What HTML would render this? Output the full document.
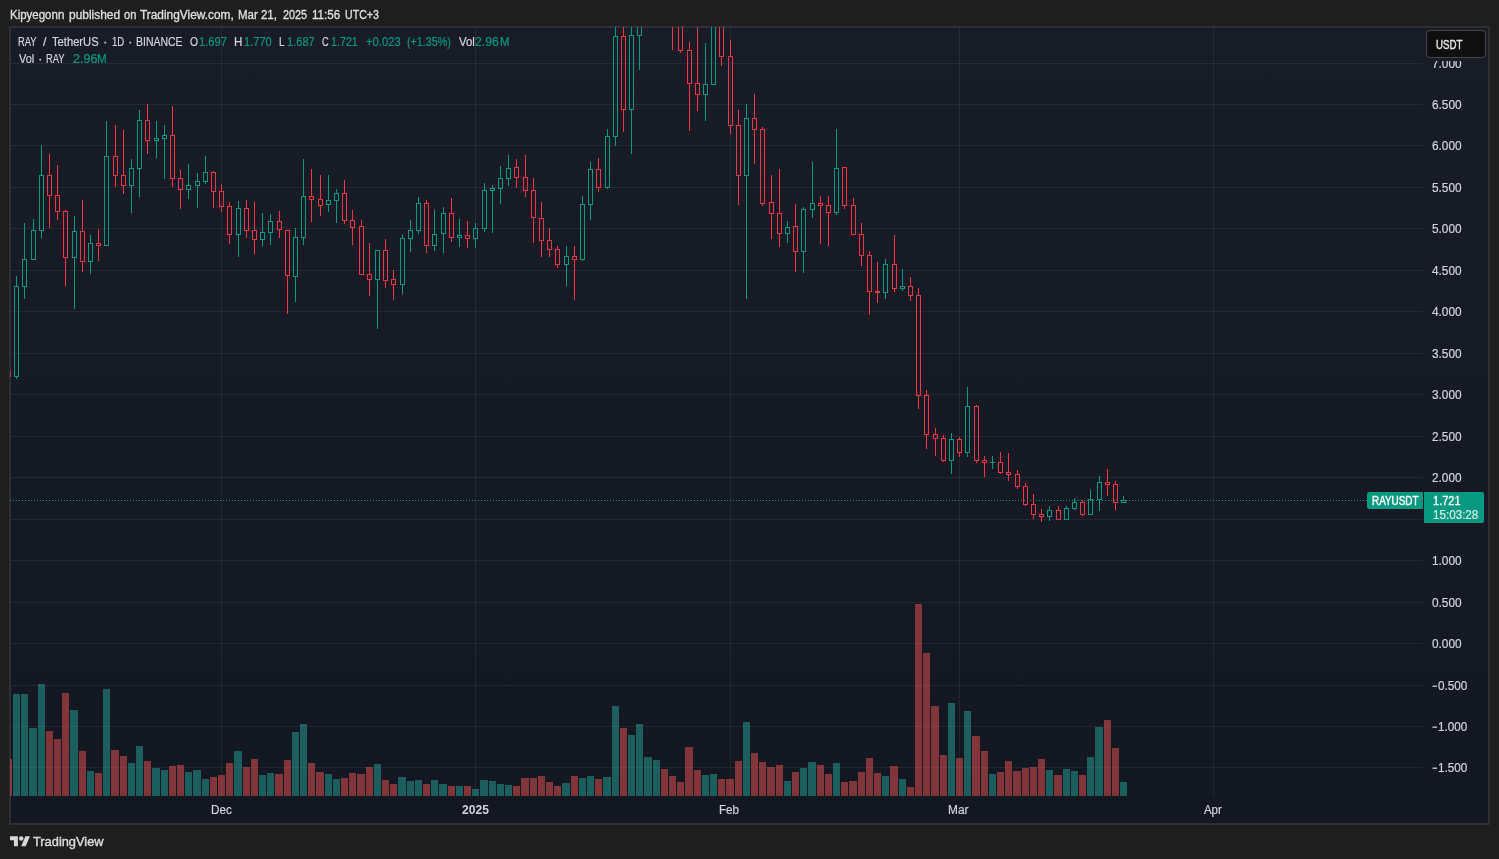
<!DOCTYPE html>
<html lang="en"><head><meta charset="utf-8"><title>RAYUSDT chart</title>
<style>
*{margin:0;padding:0;box-sizing:border-box}
html,body{width:1499px;height:859px;overflow:hidden;background:#1e1e1e}
#root{position:absolute;left:0;top:0;width:1499px;height:859px;overflow:hidden;background:#1e1e1e;will-change:transform;font-family:"Liberation Sans",Arial,sans-serif;font-size:12px;color:#d1d4dc}
.box{position:absolute;left:9px;top:26px;width:1481px;height:799px;border:1px solid #2f2f2f;box-shadow:inset 0 0 0 1px #2d2e36;background:linear-gradient(180deg,#181c27 0%,#131722 100%)}
.plot{position:absolute;left:0;top:0}
.t{position:absolute;height:16px;line-height:16px;white-space:pre;transform-origin:0 50%}
.ucov{position:absolute;left:1424px;top:28px;width:64px;height:32.7px;background:#181c27}
.usdt{position:absolute;left:1426px;top:30px;width:60px;height:28px;border:1px solid #464646;border-radius:4px;background:#0f0f0f}
.sym{position:absolute;left:1367px;top:492px;width:56px;height:17px;background:#089981;border-radius:2px 0 0 2px}
.prc{position:absolute;left:1424px;top:492px;width:60px;height:31px;background:#089981;border-radius:0 2px 2px 0}
.logo{position:absolute;left:9.85px;top:833.8px}
</style></head><body><div id="root">
<div class="box"></div>
<svg class="plot" width="1499" height="859" viewBox="0 0 1499 859" shape-rendering="crispEdges"><defs><clipPath id="pane"><rect x="10" y="27" width="1479" height="797"/></clipPath></defs><g clip-path="url(#pane)"><g fill="#f0f3fa" fill-opacity="0.068"><rect x="11" y="63" width="1412" height="1"/><rect x="11" y="104" width="1412" height="1"/><rect x="11" y="145" width="1412" height="1"/><rect x="11" y="187" width="1412" height="1"/><rect x="11" y="228" width="1412" height="1"/><rect x="11" y="270" width="1412" height="1"/><rect x="11" y="311" width="1412" height="1"/><rect x="11" y="353" width="1412" height="1"/><rect x="11" y="394" width="1412" height="1"/><rect x="11" y="436" width="1412" height="1"/><rect x="11" y="477" width="1412" height="1"/><rect x="11" y="519" width="1412" height="1"/><rect x="11" y="560" width="1412" height="1"/><rect x="11" y="602" width="1412" height="1"/><rect x="11" y="643" width="1412" height="1"/><rect x="11" y="685" width="1412" height="1"/><rect x="11" y="726" width="1412" height="1"/><rect x="11" y="767" width="1412" height="1"/><rect x="221" y="28" width="1" height="768"/><rect x="475" y="28" width="1" height="768"/><rect x="730" y="28" width="1" height="768"/><rect x="959" y="28" width="1" height="768"/><rect x="1213" y="28" width="1" height="768"/></g><g fill="rgba(38,166,154,0.5)"><rect x="13" y="694" width="7" height="102"/><rect x="21" y="694" width="7" height="102"/><rect x="29" y="728" width="8" height="68"/><rect x="38" y="684" width="7" height="112"/><rect x="70" y="710" width="8" height="86"/><rect x="87" y="771" width="7" height="25"/><rect x="103" y="689" width="7" height="107"/><rect x="128" y="763" width="7" height="33"/><rect x="136" y="746" width="7" height="50"/><rect x="152" y="768" width="8" height="28"/><rect x="161" y="770" width="7" height="26"/><rect x="185" y="772" width="7" height="24"/><rect x="193" y="770" width="8" height="26"/><rect x="202" y="779" width="7" height="17"/><rect x="234" y="751" width="8" height="45"/><rect x="259" y="775" width="7" height="21"/><rect x="267" y="773" width="7" height="23"/><rect x="292" y="732" width="7" height="64"/><rect x="300" y="724" width="7" height="72"/><rect x="325" y="774" width="7" height="22"/><rect x="333" y="779" width="7" height="17"/><rect x="374" y="764" width="7" height="32"/><rect x="398" y="777" width="8" height="19"/><rect x="407" y="781" width="7" height="15"/><rect x="415" y="780" width="7" height="16"/><rect x="431" y="780" width="7" height="16"/><rect x="439" y="784" width="8" height="12"/><rect x="456" y="786" width="7" height="10"/><rect x="472" y="789" width="7" height="7"/><rect x="480" y="780" width="8" height="16"/><rect x="489" y="781" width="7" height="15"/><rect x="497" y="784" width="7" height="12"/><rect x="505" y="785" width="7" height="11"/><rect x="562" y="783" width="8" height="13"/><rect x="579" y="778" width="7" height="18"/><rect x="587" y="776" width="7" height="20"/><rect x="603" y="777" width="8" height="19"/><rect x="612" y="706" width="7" height="90"/><rect x="628" y="735" width="7" height="61"/><rect x="636" y="724" width="7" height="72"/><rect x="644" y="757" width="8" height="39"/><rect x="653" y="760" width="7" height="36"/><rect x="702" y="775" width="7" height="21"/><rect x="710" y="774" width="7" height="22"/><rect x="743" y="722" width="7" height="74"/><rect x="784" y="781" width="7" height="15"/><rect x="800" y="768" width="7" height="28"/><rect x="808" y="762" width="8" height="34"/><rect x="833" y="763" width="7" height="33"/><rect x="882" y="776" width="7" height="20"/><rect x="899" y="779" width="7" height="17"/><rect x="948" y="703" width="7" height="93"/><rect x="964" y="711" width="7" height="85"/><rect x="989" y="774" width="7" height="22"/><rect x="1046" y="770" width="7" height="26"/><rect x="1063" y="769" width="7" height="27"/><rect x="1071" y="771" width="7" height="25"/><rect x="1087" y="757" width="7" height="39"/><rect x="1095" y="727" width="8" height="69"/><rect x="1120" y="782" width="7" height="14"/></g><g fill="rgba(239,83,80,0.5)"><rect x="5" y="759" width="7" height="37"/><rect x="46" y="731" width="7" height="65"/><rect x="54" y="739" width="7" height="57"/><rect x="62" y="693" width="7" height="103"/><rect x="79" y="751" width="7" height="45"/><rect x="95" y="773" width="7" height="23"/><rect x="111" y="750" width="8" height="46"/><rect x="120" y="756" width="7" height="40"/><rect x="144" y="761" width="7" height="35"/><rect x="169" y="766" width="7" height="30"/><rect x="177" y="765" width="7" height="31"/><rect x="210" y="777" width="7" height="19"/><rect x="218" y="775" width="7" height="21"/><rect x="226" y="763" width="7" height="33"/><rect x="243" y="767" width="7" height="29"/><rect x="251" y="759" width="7" height="37"/><rect x="275" y="774" width="8" height="22"/><rect x="284" y="760" width="7" height="36"/><rect x="308" y="763" width="7" height="33"/><rect x="316" y="772" width="8" height="24"/><rect x="341" y="778" width="7" height="18"/><rect x="349" y="773" width="7" height="23"/><rect x="357" y="774" width="8" height="22"/><rect x="366" y="767" width="7" height="29"/><rect x="382" y="780" width="7" height="16"/><rect x="390" y="784" width="7" height="12"/><rect x="423" y="784" width="7" height="12"/><rect x="448" y="786" width="7" height="10"/><rect x="464" y="786" width="7" height="10"/><rect x="513" y="786" width="7" height="10"/><rect x="521" y="778" width="8" height="18"/><rect x="530" y="778" width="7" height="18"/><rect x="538" y="776" width="7" height="20"/><rect x="546" y="782" width="7" height="14"/><rect x="554" y="786" width="7" height="10"/><rect x="571" y="776" width="7" height="20"/><rect x="595" y="779" width="7" height="17"/><rect x="620" y="728" width="7" height="68"/><rect x="661" y="769" width="7" height="27"/><rect x="669" y="776" width="7" height="20"/><rect x="677" y="782" width="7" height="14"/><rect x="685" y="747" width="8" height="49"/><rect x="694" y="770" width="7" height="26"/><rect x="718" y="779" width="7" height="17"/><rect x="726" y="779" width="8" height="17"/><rect x="735" y="761" width="7" height="35"/><rect x="751" y="753" width="7" height="43"/><rect x="759" y="762" width="7" height="34"/><rect x="767" y="767" width="8" height="29"/><rect x="776" y="765" width="7" height="31"/><rect x="792" y="772" width="7" height="24"/><rect x="817" y="765" width="7" height="31"/><rect x="825" y="774" width="7" height="22"/><rect x="841" y="782" width="7" height="14"/><rect x="849" y="781" width="8" height="15"/><rect x="858" y="772" width="7" height="24"/><rect x="866" y="758" width="7" height="38"/><rect x="874" y="773" width="7" height="23"/><rect x="890" y="766" width="8" height="30"/><rect x="907" y="787" width="7" height="9"/><rect x="915" y="604" width="7" height="192"/><rect x="923" y="653" width="7" height="143"/><rect x="931" y="706" width="8" height="90"/><rect x="940" y="755" width="7" height="41"/><rect x="956" y="758" width="7" height="38"/><rect x="972" y="736" width="8" height="60"/><rect x="981" y="751" width="7" height="45"/><rect x="997" y="772" width="7" height="24"/><rect x="1005" y="761" width="7" height="35"/><rect x="1013" y="771" width="8" height="25"/><rect x="1022" y="768" width="7" height="28"/><rect x="1030" y="767" width="7" height="29"/><rect x="1038" y="759" width="7" height="37"/><rect x="1054" y="775" width="8" height="21"/><rect x="1079" y="775" width="7" height="21"/><rect x="1104" y="720" width="7" height="76"/><rect x="1112" y="748" width="7" height="48"/></g><line x1="10" y1="500.5" x2="1368" y2="500.5" stroke="#089981" stroke-width="1" stroke-dasharray="1 2"/><g fill="#089981"><rect x="16" y="276" width="1" height="10"/><rect x="16" y="377" width="1" height="2"/><path fill-rule="evenodd" d="M14 286h5v91h-5zM15 287h3v89h-3z"/><rect x="24" y="223" width="1" height="36"/><rect x="24" y="287" width="1" height="12"/><path fill-rule="evenodd" d="M22 259h5v28h-5zM23 260h3v26h-3z"/><rect x="33" y="219" width="1" height="11"/><path fill-rule="evenodd" d="M31 230h5v30h-5zM32 231h3v28h-3z"/><rect x="41" y="145" width="1" height="30"/><rect x="41" y="231" width="1" height="7"/><path fill-rule="evenodd" d="M39 175h5v56h-5zM40 176h3v54h-3z"/><rect x="74" y="216" width="1" height="15"/><rect x="74" y="258" width="1" height="51"/><path fill-rule="evenodd" d="M72 231h5v27h-5zM73 232h3v25h-3z"/><rect x="90" y="235" width="1" height="8"/><rect x="90" y="262" width="1" height="12"/><path fill-rule="evenodd" d="M88 243h5v19h-5zM89 244h3v17h-3z"/><rect x="106" y="121" width="1" height="35"/><path fill-rule="evenodd" d="M104 156h5v90h-5zM105 157h3v88h-3z"/><rect x="131" y="159" width="1" height="9"/><rect x="131" y="186" width="1" height="27"/><path fill-rule="evenodd" d="M129 168h5v18h-5zM130 169h3v16h-3z"/><rect x="139" y="110" width="1" height="10"/><rect x="139" y="169" width="1" height="28"/><path fill-rule="evenodd" d="M137 120h5v49h-5zM138 121h3v47h-3z"/><rect x="156" y="121" width="1" height="17"/><rect x="156" y="141" width="1" height="17"/><path fill-rule="evenodd" d="M154 138h5v3h-5zM155 139h3v1h-3z"/><rect x="164" y="125" width="1" height="10"/><rect x="164" y="139" width="1" height="40"/><path fill-rule="evenodd" d="M162 135h5v4h-5zM163 136h3v2h-3z"/><rect x="188" y="164" width="1" height="21"/><rect x="188" y="190" width="1" height="9"/><path fill-rule="evenodd" d="M186 185h5v5h-5zM187 186h3v3h-3z"/><rect x="197" y="173" width="1" height="8"/><rect x="197" y="186" width="1" height="22"/><path fill-rule="evenodd" d="M195 181h5v5h-5zM196 182h3v3h-3z"/><rect x="205" y="156" width="1" height="16"/><rect x="205" y="182" width="1" height="2"/><path fill-rule="evenodd" d="M203 172h5v10h-5zM204 173h3v8h-3z"/><rect x="238" y="201" width="1" height="7"/><rect x="238" y="235" width="1" height="22"/><path fill-rule="evenodd" d="M236 208h5v27h-5zM237 209h3v25h-3z"/><rect x="262" y="213" width="1" height="19"/><rect x="262" y="240" width="1" height="6"/><path fill-rule="evenodd" d="M260 232h5v8h-5zM261 233h3v6h-3z"/><rect x="270" y="214" width="1" height="7"/><rect x="270" y="233" width="1" height="12"/><path fill-rule="evenodd" d="M268 221h5v12h-5zM269 222h3v10h-3z"/><rect x="295" y="228" width="1" height="9"/><rect x="295" y="277" width="1" height="25"/><path fill-rule="evenodd" d="M293 237h5v40h-5zM294 238h3v38h-3z"/><rect x="303" y="159" width="1" height="37"/><rect x="303" y="238" width="1" height="7"/><path fill-rule="evenodd" d="M301 196h5v42h-5zM302 197h3v40h-3z"/><rect x="328" y="175" width="1" height="25"/><rect x="328" y="205" width="1" height="7"/><path fill-rule="evenodd" d="M326 200h5v5h-5zM327 201h3v3h-3z"/><rect x="336" y="189" width="1" height="4"/><rect x="336" y="201" width="1" height="22"/><path fill-rule="evenodd" d="M334 193h5v8h-5zM335 194h3v6h-3z"/><rect x="377" y="280" width="1" height="49"/><path fill-rule="evenodd" d="M375 250h5v30h-5zM376 251h3v28h-3z"/><rect x="402" y="234" width="1" height="4"/><rect x="402" y="285" width="1" height="9"/><path fill-rule="evenodd" d="M400 238h5v47h-5zM401 239h3v45h-3z"/><rect x="410" y="220" width="1" height="10"/><rect x="410" y="239" width="1" height="13"/><path fill-rule="evenodd" d="M408 230h5v9h-5zM409 231h3v7h-3z"/><rect x="418" y="197" width="1" height="6"/><rect x="418" y="231" width="1" height="3"/><path fill-rule="evenodd" d="M416 203h5v28h-5zM417 204h3v26h-3z"/><rect x="434" y="210" width="1" height="24"/><rect x="434" y="246" width="1" height="5"/><path fill-rule="evenodd" d="M432 234h5v12h-5zM433 235h3v10h-3z"/><rect x="443" y="207" width="1" height="6"/><rect x="443" y="234" width="1" height="19"/><path fill-rule="evenodd" d="M441 213h5v21h-5zM442 214h3v19h-3z"/><rect x="459" y="219" width="1" height="16"/><rect x="459" y="238" width="1" height="9"/><path fill-rule="evenodd" d="M457 235h5v3h-5zM458 236h3v1h-3z"/><rect x="475" y="223" width="1" height="5"/><rect x="475" y="239" width="1" height="9"/><path fill-rule="evenodd" d="M473 228h5v11h-5zM474 229h3v9h-3z"/><rect x="484" y="183" width="1" height="7"/><rect x="484" y="229" width="1" height="3"/><path fill-rule="evenodd" d="M482 190h5v39h-5zM483 191h3v37h-3z"/><rect x="492" y="185" width="1" height="3"/><rect x="492" y="191" width="1" height="42"/><path fill-rule="evenodd" d="M490 188h5v3h-5zM491 189h3v1h-3z"/><rect x="500" y="166" width="1" height="12"/><rect x="500" y="189" width="1" height="15"/><path fill-rule="evenodd" d="M498 178h5v11h-5zM499 179h3v9h-3z"/><rect x="508" y="155" width="1" height="13"/><rect x="508" y="179" width="1" height="7"/><path fill-rule="evenodd" d="M506 168h5v11h-5zM507 169h3v9h-3z"/><rect x="566" y="246" width="1" height="10"/><rect x="566" y="265" width="1" height="21"/><path fill-rule="evenodd" d="M564 256h5v9h-5zM565 257h3v7h-3z"/><rect x="582" y="196" width="1" height="8"/><rect x="582" y="260" width="1" height="1"/><path fill-rule="evenodd" d="M580 204h5v56h-5zM581 205h3v54h-3z"/><rect x="590" y="162" width="1" height="7"/><rect x="590" y="205" width="1" height="15"/><path fill-rule="evenodd" d="M588 169h5v36h-5zM589 170h3v34h-3z"/><rect x="607" y="129" width="1" height="7"/><rect x="607" y="188" width="1" height="1"/><path fill-rule="evenodd" d="M605 136h5v52h-5zM606 137h3v50h-3z"/><rect x="615" y="10" width="1" height="26"/><rect x="615" y="137" width="1" height="9"/><path fill-rule="evenodd" d="M613 36h5v101h-5zM614 37h3v99h-3z"/><rect x="631" y="10" width="1" height="25"/><rect x="631" y="110" width="1" height="44"/><path fill-rule="evenodd" d="M629 35h5v75h-5zM630 36h3v73h-3z"/><rect x="639" y="36" width="1" height="34"/><path fill-rule="evenodd" d="M637 9h5v27h-5zM638 10h3v25h-3z"/><rect x="705" y="43" width="1" height="41"/><rect x="705" y="95" width="1" height="26"/><path fill-rule="evenodd" d="M703 84h5v11h-5zM704 85h3v9h-3z"/><path fill-rule="evenodd" d="M711 9h5v76h-5zM712 10h3v74h-3z"/><rect x="746" y="104" width="1" height="14"/><rect x="746" y="176" width="1" height="123"/><path fill-rule="evenodd" d="M744 118h5v58h-5zM745 119h3v56h-3z"/><rect x="787" y="221" width="1" height="6"/><rect x="787" y="234" width="1" height="9"/><path fill-rule="evenodd" d="M785 227h5v7h-5zM786 228h3v5h-3z"/><rect x="803" y="207" width="1" height="2"/><rect x="803" y="252" width="1" height="21"/><path fill-rule="evenodd" d="M801 209h5v43h-5zM802 210h3v41h-3z"/><rect x="812" y="162" width="1" height="41"/><rect x="812" y="210" width="1" height="8"/><path fill-rule="evenodd" d="M810 203h5v7h-5zM811 204h3v5h-3z"/><rect x="836" y="129" width="1" height="39"/><rect x="836" y="213" width="1" height="2"/><path fill-rule="evenodd" d="M834 168h5v45h-5zM835 169h3v43h-3z"/><rect x="885" y="259" width="1" height="5"/><rect x="885" y="293" width="1" height="6"/><path fill-rule="evenodd" d="M883 264h5v29h-5zM884 265h3v27h-3z"/><rect x="902" y="269" width="1" height="17"/><rect x="902" y="289" width="1" height="2"/><path fill-rule="evenodd" d="M900 286h5v3h-5zM901 287h3v1h-3z"/><rect x="951" y="433" width="1" height="6"/><rect x="951" y="461" width="1" height="13"/><path fill-rule="evenodd" d="M949 439h5v22h-5zM950 440h3v20h-3z"/><rect x="967" y="387" width="1" height="19"/><rect x="967" y="453" width="1" height="4"/><path fill-rule="evenodd" d="M965 406h5v47h-5zM966 407h3v45h-3z"/><rect x="992" y="456" width="1" height="6"/><rect x="992" y="463" width="1" height="6"/><rect x="990" y="462" width="5" height="1"/><rect x="1049" y="506" width="1" height="4"/><rect x="1049" y="517" width="1" height="4"/><path fill-rule="evenodd" d="M1047 510h5v7h-5zM1048 511h3v5h-3z"/><rect x="1066" y="506" width="1" height="2"/><path fill-rule="evenodd" d="M1064 508h5v12h-5zM1065 509h3v10h-3z"/><rect x="1074" y="498" width="1" height="4"/><rect x="1074" y="509" width="1" height="1"/><path fill-rule="evenodd" d="M1072 502h5v7h-5zM1073 503h3v5h-3z"/><rect x="1090" y="490" width="1" height="9"/><path fill-rule="evenodd" d="M1088 499h5v16h-5zM1089 500h3v14h-3z"/><rect x="1099" y="476" width="1" height="6"/><rect x="1099" y="500" width="1" height="11"/><path fill-rule="evenodd" d="M1097 482h5v18h-5zM1098 483h3v16h-3z"/><rect x="1123" y="496" width="1" height="4"/><path fill-rule="evenodd" d="M1121 500h5v3h-5zM1122 501h3v1h-3z"/></g><g fill="#f23645"><rect x="49" y="154" width="1" height="21"/><rect x="49" y="196" width="1" height="32"/><path fill-rule="evenodd" d="M47 175h5v21h-5zM48 176h3v19h-3z"/><rect x="57" y="165" width="1" height="30"/><rect x="57" y="212" width="1" height="8"/><path fill-rule="evenodd" d="M55 195h5v17h-5zM56 196h3v15h-3z"/><rect x="65" y="210" width="1" height="1"/><rect x="65" y="258" width="1" height="28"/><path fill-rule="evenodd" d="M63 211h5v47h-5zM64 212h3v45h-3z"/><rect x="82" y="200" width="1" height="31"/><rect x="82" y="262" width="1" height="10"/><path fill-rule="evenodd" d="M80 231h5v31h-5zM81 232h3v29h-3z"/><rect x="98" y="229" width="1" height="14"/><rect x="98" y="246" width="1" height="15"/><path fill-rule="evenodd" d="M96 243h5v3h-5zM97 244h3v1h-3z"/><rect x="115" y="125" width="1" height="31"/><rect x="115" y="176" width="1" height="11"/><path fill-rule="evenodd" d="M113 156h5v20h-5zM114 157h3v18h-3z"/><rect x="123" y="130" width="1" height="45"/><rect x="123" y="186" width="1" height="8"/><path fill-rule="evenodd" d="M121 175h5v11h-5zM122 176h3v9h-3z"/><rect x="147" y="104" width="1" height="16"/><rect x="147" y="141" width="1" height="13"/><path fill-rule="evenodd" d="M145 120h5v21h-5zM146 121h3v19h-3z"/><rect x="172" y="106" width="1" height="29"/><rect x="172" y="179" width="1" height="8"/><path fill-rule="evenodd" d="M170 135h5v44h-5zM171 136h3v42h-3z"/><rect x="180" y="170" width="1" height="8"/><rect x="180" y="190" width="1" height="19"/><path fill-rule="evenodd" d="M178 178h5v12h-5zM179 179h3v10h-3z"/><rect x="213" y="171" width="1" height="1"/><rect x="213" y="192" width="1" height="16"/><path fill-rule="evenodd" d="M211 172h5v20h-5zM212 173h3v18h-3z"/><rect x="221" y="184" width="1" height="7"/><rect x="221" y="207" width="1" height="5"/><path fill-rule="evenodd" d="M219 191h5v16h-5zM220 192h3v14h-3z"/><rect x="229" y="202" width="1" height="4"/><rect x="229" y="235" width="1" height="9"/><path fill-rule="evenodd" d="M227 206h5v29h-5zM228 207h3v27h-3z"/><rect x="246" y="200" width="1" height="8"/><rect x="246" y="231" width="1" height="7"/><path fill-rule="evenodd" d="M244 208h5v23h-5zM245 209h3v21h-3z"/><rect x="254" y="202" width="1" height="28"/><rect x="254" y="240" width="1" height="14"/><path fill-rule="evenodd" d="M252 230h5v10h-5zM253 231h3v8h-3z"/><rect x="279" y="211" width="1" height="10"/><rect x="279" y="230" width="1" height="8"/><path fill-rule="evenodd" d="M277 221h5v9h-5zM278 222h3v7h-3z"/><rect x="287" y="276" width="1" height="38"/><path fill-rule="evenodd" d="M285 230h5v46h-5zM286 231h3v44h-3z"/><rect x="311" y="169" width="1" height="27"/><rect x="311" y="200" width="1" height="22"/><path fill-rule="evenodd" d="M309 196h5v4h-5zM310 197h3v2h-3z"/><rect x="320" y="175" width="1" height="24"/><rect x="320" y="206" width="1" height="10"/><path fill-rule="evenodd" d="M318 199h5v7h-5zM319 200h3v5h-3z"/><rect x="344" y="180" width="1" height="13"/><rect x="344" y="221" width="1" height="3"/><path fill-rule="evenodd" d="M342 193h5v28h-5zM343 194h3v26h-3z"/><rect x="352" y="210" width="1" height="10"/><rect x="352" y="228" width="1" height="17"/><path fill-rule="evenodd" d="M350 220h5v8h-5zM351 221h3v6h-3z"/><rect x="361" y="220" width="1" height="6"/><path fill-rule="evenodd" d="M359 226h5v49h-5zM360 227h3v47h-3z"/><rect x="369" y="243" width="1" height="31"/><rect x="369" y="280" width="1" height="16"/><path fill-rule="evenodd" d="M367 274h5v6h-5zM368 275h3v4h-3z"/><rect x="385" y="239" width="1" height="11"/><rect x="385" y="281" width="1" height="7"/><path fill-rule="evenodd" d="M383 250h5v31h-5zM384 251h3v29h-3z"/><rect x="393" y="270" width="1" height="9"/><rect x="393" y="285" width="1" height="15"/><path fill-rule="evenodd" d="M391 279h5v6h-5zM392 280h3v4h-3z"/><rect x="426" y="200" width="1" height="3"/><rect x="426" y="246" width="1" height="7"/><path fill-rule="evenodd" d="M424 203h5v43h-5zM425 204h3v41h-3z"/><rect x="451" y="198" width="1" height="15"/><rect x="451" y="238" width="1" height="4"/><path fill-rule="evenodd" d="M449 213h5v25h-5zM450 214h3v23h-3z"/><rect x="467" y="221" width="1" height="14"/><rect x="467" y="239" width="1" height="9"/><path fill-rule="evenodd" d="M465 235h5v4h-5zM466 236h3v2h-3z"/><rect x="516" y="159" width="1" height="8"/><rect x="516" y="178" width="1" height="10"/><path fill-rule="evenodd" d="M514 167h5v11h-5zM515 168h3v9h-3z"/><rect x="525" y="155" width="1" height="22"/><rect x="525" y="191" width="1" height="6"/><path fill-rule="evenodd" d="M523 177h5v14h-5zM524 178h3v12h-3z"/><rect x="533" y="178" width="1" height="12"/><rect x="533" y="218" width="1" height="25"/><path fill-rule="evenodd" d="M531 190h5v28h-5zM532 191h3v26h-3z"/><rect x="541" y="202" width="1" height="16"/><rect x="541" y="241" width="1" height="16"/><path fill-rule="evenodd" d="M539 218h5v23h-5zM540 219h3v21h-3z"/><rect x="549" y="228" width="1" height="12"/><rect x="549" y="250" width="1" height="7"/><path fill-rule="evenodd" d="M547 240h5v10h-5zM548 241h3v8h-3z"/><rect x="557" y="246" width="1" height="3"/><rect x="557" y="265" width="1" height="3"/><path fill-rule="evenodd" d="M555 249h5v16h-5zM556 250h3v14h-3z"/><rect x="574" y="246" width="1" height="10"/><rect x="574" y="260" width="1" height="40"/><path fill-rule="evenodd" d="M572 256h5v4h-5zM573 257h3v2h-3z"/><rect x="598" y="158" width="1" height="11"/><rect x="598" y="188" width="1" height="4"/><path fill-rule="evenodd" d="M596 169h5v19h-5zM597 170h3v17h-3z"/><rect x="623" y="10" width="1" height="26"/><rect x="623" y="110" width="1" height="22"/><path fill-rule="evenodd" d="M621 36h5v74h-5zM622 37h3v72h-3z"/><rect x="672" y="11" width="1" height="39"/><rect x="670" y="9" width="5" height="2"/><rect x="680" y="51" width="1" height="2"/><path fill-rule="evenodd" d="M678 9h5v42h-5zM679 10h3v40h-3z"/><rect x="689" y="42" width="1" height="8"/><rect x="689" y="84" width="1" height="47"/><path fill-rule="evenodd" d="M687 50h5v34h-5zM688 51h3v32h-3z"/><rect x="697" y="10" width="1" height="73"/><rect x="697" y="95" width="1" height="16"/><path fill-rule="evenodd" d="M695 83h5v12h-5zM696 84h3v10h-3z"/><rect x="721" y="57" width="1" height="9"/><path fill-rule="evenodd" d="M719 9h5v48h-5zM720 10h3v46h-3z"/><rect x="730" y="40" width="1" height="16"/><rect x="730" y="126" width="1" height="8"/><path fill-rule="evenodd" d="M728 56h5v70h-5zM729 57h3v68h-3z"/><rect x="738" y="110" width="1" height="15"/><rect x="738" y="176" width="1" height="29"/><path fill-rule="evenodd" d="M736 125h5v51h-5zM737 126h3v49h-3z"/><rect x="754" y="94" width="1" height="24"/><rect x="754" y="130" width="1" height="34"/><path fill-rule="evenodd" d="M752 118h5v12h-5zM753 119h3v10h-3z"/><rect x="762" y="127" width="1" height="2"/><rect x="762" y="204" width="1" height="2"/><path fill-rule="evenodd" d="M760 129h5v75h-5zM761 130h3v73h-3z"/><rect x="771" y="175" width="1" height="27"/><rect x="771" y="214" width="1" height="25"/><path fill-rule="evenodd" d="M769 202h5v12h-5zM770 203h3v10h-3z"/><rect x="779" y="169" width="1" height="44"/><rect x="779" y="234" width="1" height="13"/><path fill-rule="evenodd" d="M777 213h5v21h-5zM778 214h3v19h-3z"/><rect x="795" y="204" width="1" height="22"/><rect x="795" y="252" width="1" height="20"/><path fill-rule="evenodd" d="M793 226h5v26h-5zM794 227h3v24h-3z"/><rect x="820" y="196" width="1" height="7"/><rect x="820" y="206" width="1" height="38"/><path fill-rule="evenodd" d="M818 203h5v3h-5zM819 204h3v1h-3z"/><rect x="828" y="196" width="1" height="9"/><rect x="828" y="213" width="1" height="33"/><path fill-rule="evenodd" d="M826 205h5v8h-5zM827 206h3v6h-3z"/><rect x="844" y="206" width="1" height="3"/><path fill-rule="evenodd" d="M842 167h5v39h-5zM843 168h3v37h-3z"/><rect x="853" y="198" width="1" height="7"/><path fill-rule="evenodd" d="M851 205h5v30h-5zM852 206h3v28h-3z"/><rect x="861" y="223" width="1" height="11"/><rect x="861" y="256" width="1" height="10"/><path fill-rule="evenodd" d="M859 234h5v22h-5zM860 235h3v20h-3z"/><rect x="869" y="251" width="1" height="4"/><rect x="869" y="292" width="1" height="23"/><path fill-rule="evenodd" d="M867 255h5v37h-5zM868 256h3v35h-3z"/><rect x="877" y="262" width="1" height="29"/><rect x="877" y="293" width="1" height="10"/><rect x="875" y="291" width="5" height="2"/><rect x="894" y="235" width="1" height="29"/><rect x="894" y="289" width="1" height="3"/><path fill-rule="evenodd" d="M892 264h5v25h-5zM893 265h3v23h-3z"/><rect x="910" y="277" width="1" height="9"/><rect x="910" y="296" width="1" height="5"/><path fill-rule="evenodd" d="M908 286h5v10h-5zM909 287h3v8h-3z"/><rect x="918" y="288" width="1" height="7"/><rect x="918" y="396" width="1" height="13"/><path fill-rule="evenodd" d="M916 295h5v101h-5zM917 296h3v99h-3z"/><rect x="926" y="390" width="1" height="5"/><rect x="926" y="435" width="1" height="14"/><path fill-rule="evenodd" d="M924 395h5v40h-5zM925 396h3v38h-3z"/><rect x="935" y="428" width="1" height="6"/><rect x="935" y="439" width="1" height="17"/><path fill-rule="evenodd" d="M933 434h5v5h-5zM934 435h3v3h-3z"/><rect x="943" y="435" width="1" height="3"/><rect x="943" y="461" width="1" height="1"/><path fill-rule="evenodd" d="M941 438h5v23h-5zM942 439h3v21h-3z"/><rect x="959" y="437" width="1" height="2"/><rect x="959" y="453" width="1" height="4"/><path fill-rule="evenodd" d="M957 439h5v14h-5zM958 440h3v12h-3z"/><rect x="976" y="405" width="1" height="1"/><rect x="976" y="461" width="1" height="2"/><path fill-rule="evenodd" d="M974 406h5v55h-5zM975 407h3v53h-3z"/><rect x="984" y="456" width="1" height="4"/><rect x="984" y="463" width="1" height="14"/><path fill-rule="evenodd" d="M982 460h5v3h-5zM983 461h3v1h-3z"/><rect x="1000" y="452" width="1" height="10"/><rect x="1000" y="473" width="1" height="1"/><path fill-rule="evenodd" d="M998 462h5v11h-5zM999 463h3v9h-3z"/><rect x="1008" y="453" width="1" height="19"/><rect x="1008" y="475" width="1" height="6"/><path fill-rule="evenodd" d="M1006 472h5v3h-5zM1007 473h3v1h-3z"/><rect x="1017" y="470" width="1" height="4"/><rect x="1017" y="487" width="1" height="2"/><path fill-rule="evenodd" d="M1015 474h5v13h-5zM1016 475h3v11h-3z"/><rect x="1025" y="483" width="1" height="3"/><rect x="1025" y="505" width="1" height="1"/><path fill-rule="evenodd" d="M1023 486h5v19h-5zM1024 487h3v17h-3z"/><rect x="1033" y="494" width="1" height="10"/><rect x="1033" y="515" width="1" height="4"/><path fill-rule="evenodd" d="M1031 504h5v11h-5zM1032 505h3v9h-3z"/><rect x="1041" y="509" width="1" height="5"/><rect x="1041" y="517" width="1" height="5"/><path fill-rule="evenodd" d="M1039 514h5v3h-5zM1040 515h3v1h-3z"/><rect x="1058" y="506" width="1" height="4"/><path fill-rule="evenodd" d="M1056 510h5v10h-5zM1057 511h3v8h-3z"/><rect x="1082" y="500" width="1" height="2"/><rect x="1082" y="515" width="1" height="1"/><path fill-rule="evenodd" d="M1080 502h5v13h-5zM1081 503h3v11h-3z"/><rect x="1107" y="469" width="1" height="13"/><rect x="1107" y="485" width="1" height="11"/><path fill-rule="evenodd" d="M1105 482h5v3h-5zM1106 483h3v1h-3z"/><rect x="1115" y="481" width="1" height="3"/><rect x="1115" y="503" width="1" height="7"/><path fill-rule="evenodd" d="M1113 484h5v19h-5zM1114 485h3v17h-3z"/><rect x="10" y="371" width="1" height="6" fill-opacity="0.7"/></g></g></svg>
<span class="t" style="left:1431.90px;top:56.1px;-webkit-text-stroke:0.2px;color:#d1d4dc;transform:scaleX(0.9867)">7.000</span><span class="t" style="left:1431.90px;top:97.1px;-webkit-text-stroke:0.2px;color:#d1d4dc;transform:scaleX(0.9867)">6.500</span><span class="t" style="left:1431.90px;top:138.1px;-webkit-text-stroke:0.2px;color:#d1d4dc;transform:scaleX(0.9867)">6.000</span><span class="t" style="left:1431.90px;top:180.1px;-webkit-text-stroke:0.2px;color:#d1d4dc;transform:scaleX(0.9867)">5.500</span><span class="t" style="left:1431.90px;top:221.1px;-webkit-text-stroke:0.2px;color:#d1d4dc;transform:scaleX(0.9867)">5.000</span><span class="t" style="left:1431.90px;top:263.1px;-webkit-text-stroke:0.2px;color:#d1d4dc;transform:scaleX(0.9867)">4.500</span><span class="t" style="left:1431.90px;top:304.1px;-webkit-text-stroke:0.2px;color:#d1d4dc;transform:scaleX(0.9867)">4.000</span><span class="t" style="left:1431.90px;top:346.1px;-webkit-text-stroke:0.2px;color:#d1d4dc;transform:scaleX(0.9867)">3.500</span><span class="t" style="left:1431.90px;top:387.1px;-webkit-text-stroke:0.2px;color:#d1d4dc;transform:scaleX(0.9867)">3.000</span><span class="t" style="left:1431.90px;top:429.1px;-webkit-text-stroke:0.2px;color:#d1d4dc;transform:scaleX(0.9867)">2.500</span><span class="t" style="left:1431.90px;top:470.1px;-webkit-text-stroke:0.2px;color:#d1d4dc;transform:scaleX(0.9867)">2.000</span><span class="t" style="left:1431.90px;top:553.1px;-webkit-text-stroke:0.2px;color:#d1d4dc;transform:scaleX(0.9867)">1.000</span><span class="t" style="left:1431.90px;top:595.1px;-webkit-text-stroke:0.2px;color:#d1d4dc;transform:scaleX(0.9867)">0.500</span><span class="t" style="left:1431.90px;top:636.1px;-webkit-text-stroke:0.2px;color:#d1d4dc;transform:scaleX(0.9867)">0.000</span><span class="t" style="left:1432.40px;top:678.1px;-webkit-text-stroke:0.2px;color:#d1d4dc;transform:scaleX(0.7571)">−</span><span class="t" style="left:1438.30px;top:678.1px;-webkit-text-stroke:0.2px;color:#d1d4dc;transform:scaleX(0.9767)">0.500</span><span class="t" style="left:1432.40px;top:719.1px;-webkit-text-stroke:0.2px;color:#d1d4dc;transform:scaleX(0.7571)">−</span><span class="t" style="left:1438.30px;top:719.1px;-webkit-text-stroke:0.2px;color:#d1d4dc;transform:scaleX(0.9767)">1.000</span><span class="t" style="left:1432.40px;top:760.1px;-webkit-text-stroke:0.2px;color:#d1d4dc;transform:scaleX(0.7571)">−</span><span class="t" style="left:1438.30px;top:760.1px;-webkit-text-stroke:0.2px;color:#d1d4dc;transform:scaleX(0.9767)">1.500</span>
<div class="ucov"></div><div class="usdt"></div>
<div class="sym"></div>
<div class="prc"></div>
<svg class="logo" width="20.2" height="15.7" viewBox="0 0 36 28"><path fill="#d9d9d9" d="M14 22H7V11H0V4h14v18zM28 22h-8l7.5-18h8L28 22z"/><circle fill="#d9d9d9" cx="20" cy="8" r="4"/></svg>
<span class="t" style="left:10.10px;top:7.0px;-webkit-text-stroke:0.35px;color:#dedede;transform:scaleX(0.9571)">Kipyegonn</span><span class="t" style="left:68.80px;top:7.0px;-webkit-text-stroke:0.35px;color:#dedede;transform:scaleX(0.9941)">published</span><span class="t" style="left:123.70px;top:7.0px;-webkit-text-stroke:0.35px;color:#dedede;transform:scaleX(0.9308)">on</span><span class="t" style="left:140.40px;top:7.0px;-webkit-text-stroke:0.35px;color:#dedede;transform:scaleX(0.9894)">TradingView.com,</span><span class="t" style="left:238.40px;top:7.0px;-webkit-text-stroke:0.35px;color:#dedede;transform:scaleX(0.9575)">Mar 21,</span><span class="t" style="left:282.70px;top:7.0px;-webkit-text-stroke:0.35px;color:#dedede;transform:scaleX(0.9000)">2025</span><span class="t" style="left:312.10px;top:7.0px;-webkit-text-stroke:0.35px;color:#dedede;transform:scaleX(0.9655)">11:56</span><span class="t" style="left:344.80px;top:7.0px;-webkit-text-stroke:0.35px;color:#dedede;transform:scaleX(0.8842)">UTC+3</span><span class="t" style="left:17.82px;top:34.2px;-webkit-text-stroke:0.2px;color:#d1d4dc;transform:scaleX(0.7783)">RAY</span><span class="t" style="left:42.60px;top:34.2px;-webkit-text-stroke:0.2px;color:#d1d4dc;transform:scaleX(1.0250)">/</span><span class="t" style="left:52.40px;top:34.2px;-webkit-text-stroke:0.2px;color:#d1d4dc;transform:scaleX(0.9320)">TetherUS</span><span class="t" style="left:103.00px;top:34.2px;-webkit-text-stroke:0.2px;color:#d1d4dc;transform:scaleX(1.1500)">·</span><span class="t" style="left:111.90px;top:34.2px;-webkit-text-stroke:0.2px;color:#d1d4dc;transform:scaleX(0.8000)">1D</span><span class="t" style="left:127.80px;top:34.2px;-webkit-text-stroke:0.2px;color:#d1d4dc;transform:scaleX(1.1500)">·</span><span class="t" style="left:135.63px;top:34.2px;-webkit-text-stroke:0.2px;color:#d1d4dc;transform:scaleX(0.8731)">BINANCE</span><span class="t" style="left:189.50px;top:34.2px;-webkit-text-stroke:0.2px;color:#d1d4dc;transform:scaleX(0.8556)">O</span><span class="t" style="left:199.10px;top:34.2px;-webkit-text-stroke:0.2px;color:#089981;transform:scaleX(0.9300)">1.697</span><span class="t" style="left:234.13px;top:34.2px;-webkit-text-stroke:0.2px;color:#d1d4dc;transform:scaleX(0.9714)">H</span><span class="t" style="left:243.70px;top:34.2px;-webkit-text-stroke:0.2px;color:#089981;transform:scaleX(0.9233)">1.770</span><span class="t" style="left:278.97px;top:34.2px;-webkit-text-stroke:0.2px;color:#d1d4dc;transform:scaleX(0.8333)">L</span><span class="t" style="left:286.60px;top:34.2px;-webkit-text-stroke:0.2px;color:#089981;transform:scaleX(0.9233)">1.687</span><span class="t" style="left:322.40px;top:34.2px;-webkit-text-stroke:0.2px;color:#d1d4dc;transform:scaleX(0.7750)">C</span><span class="t" style="left:330.80px;top:34.2px;-webkit-text-stroke:0.2px;color:#089981;transform:scaleX(0.8933)">1.721</span><span class="t" style="left:366.40px;top:34.2px;-webkit-text-stroke:0.2px;color:#089981;transform:scaleX(0.9351)">+0.023</span><span class="t" style="left:406.60px;top:34.2px;-webkit-text-stroke:0.2px;color:#089981;transform:scaleX(0.8959)">(+1.35%)</span><span class="t" style="left:458.90px;top:34.2px;-webkit-text-stroke:0.2px;color:#d1d4dc;transform:scaleX(0.9500)">Vol</span><span class="t" style="left:475.10px;top:34.2px;-webkit-text-stroke:0.2px;color:#089981;transform:scaleX(1.0174)">2.96</span><span class="t" style="left:499.55px;top:34.2px;-webkit-text-stroke:0.2px;color:#089981;transform:scaleX(0.9500)">M</span><span class="t" style="left:18.60px;top:50.7px;-webkit-text-stroke:0.2px;color:#d1d4dc;transform:scaleX(0.9125)">Vol</span><span class="t" style="left:37.50px;top:50.7px;-webkit-text-stroke:0.2px;color:#d1d4dc;transform:scaleX(1.1500)">·</span><span class="t" style="left:45.62px;top:50.7px;-webkit-text-stroke:0.2px;color:#d1d4dc;transform:scaleX(0.7826)">RAY</span><span class="t" style="left:72.80px;top:50.7px;-webkit-text-stroke:0.2px;color:#089981;transform:scaleX(1.0478)">2.96</span><span class="t" style="left:97.43px;top:50.7px;-webkit-text-stroke:0.2px;color:#089981;transform:scaleX(0.9750)">M</span><span class="t" style="left:210.63px;top:802.0px;-webkit-text-stroke:0.2px;color:#d1d4dc;transform:scaleX(0.9700)">Dec</span><span class="t" style="left:461.70px;top:802.0px;font-weight:bold;color:#d1d4dc;transform:scaleX(1.0074)">2025</span><span class="t" style="left:718.83px;top:802.0px;-webkit-text-stroke:0.2px;color:#d1d4dc;transform:scaleX(0.9700)">Feb</span><span class="t" style="left:948.21px;top:802.0px;-webkit-text-stroke:0.2px;color:#d1d4dc;transform:scaleX(0.9900)">Mar</span><span class="t" style="left:1204.30px;top:802.0px;-webkit-text-stroke:0.2px;color:#d1d4dc;transform:scaleX(0.9526)">Apr</span><span class="t" style="left:1436.20px;top:36.6px;-webkit-text-stroke:0.4px;color:#e8e8e8;transform:scaleX(0.8061)">USDT</span><span class="t" style="left:1371.80px;top:492.7px;-webkit-text-stroke:0.4px;color:#ffffff;transform:scaleX(0.8228)">RAYUSDT</span><span class="t" style="left:1432.80px;top:493.1px;-webkit-text-stroke:0.3px;color:#ffffff;transform:scaleX(0.9200)">1.721</span><span class="t" style="left:1432.80px;top:506.9px;-webkit-text-stroke:0.15px;color:rgba(255,255,255,0.82);transform:scaleX(0.9702)">15:03:28</span><span class="t" style="left:32.70px;top:832.8px;height:17px;line-height:17px;font-size:13px;-webkit-text-stroke:0.45px;color:#d9d9d9;transform:scaleX(0.9861)">TradingView</span>
</div></body></html>
